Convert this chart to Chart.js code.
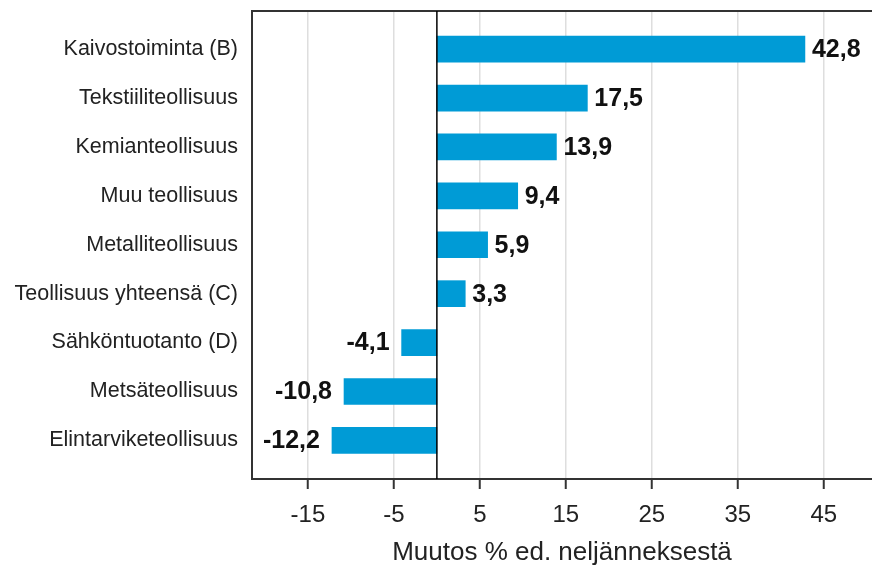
<!DOCTYPE html>
<html>
<head>
<meta charset="utf-8">
<script src="https://cdn.jsdelivr.net/npm/chart.js@4.4.1/dist/chart.umd.min.js"></script>
<style>
    html, body { margin: 0; padding: 0; background: #fff; }
    #wrap { width: 872px; height: 571px; }
</style>
</head>
<body>
<div id="wrap"><canvas id="chart"></canvas></div>
<script>
// Toimialat ja muutos % edellisestä neljänneksestä
const categories = [
    'Kaivostoiminta (B)',
    'Tekstiiliteollisuus',
    'Kemianteollisuus',
    'Muu teollisuus',
    'Metalliteollisuus',
    'Teollisuus yhteensä (C)',
    'Sähköntuotanto (D)',
    'Metsäteollisuus',
    'Elintarviketeollisuus'
];
const changes = [42.8, 17.5, 13.9, 9.4, 5.9, 3.3, -4.1, -10.8, -12.2];
const xTicks = [-15, -5, 5, 15, 25, 35, 45];
const xTitle = 'Muutos % ed. neljänneksestä';

const barColor = '#009bd6';
const fontFamily = '"Liberation Sans", Arial, sans-serif';

function formatValue(v) {
    return v.toFixed(1).replace('.', ',');
}

// arvot palkkien päähän
const valueLabels = {
    id: 'valueLabels',
    afterDatasetsDraw(chart) {
        const ctx = chart.ctx;
        const meta = chart.getDatasetMeta(0);
        ctx.save();
        ctx.font = 'bold 25px ' + fontFamily;
        ctx.fillStyle = '#111';
        ctx.textBaseline = 'middle';
        meta.data.forEach((bar, i) => {
            const v = changes[i];
            if (v >= 0) {
                ctx.textAlign = 'left';
                ctx.fillText(formatValue(v), bar.x + 7, bar.y + 1);
            } else {
                ctx.textAlign = 'right';
                ctx.fillText(formatValue(v), bar.x - 12, bar.y + 1);
            }
        });
        ctx.restore();
    }
};

// yläreuna ja nollaviiva
const frameLines = {
    id: 'frameLines',
    afterDraw(chart) {
        const ctx = chart.ctx;
        const area = chart.chartArea;
        const x0 = chart.scales.x.getPixelForValue(0);
        ctx.save();
        ctx.strokeStyle = '#333';
        ctx.lineWidth = 2;
        ctx.beginPath();
        ctx.moveTo(area.left - 1, area.top);
        ctx.lineTo(area.right, area.top);
        ctx.stroke();
        ctx.strokeStyle = '#000';
        ctx.lineWidth = 1.5;
        ctx.beginPath();
        ctx.moveTo(x0, area.top);
        ctx.lineTo(x0, area.bottom);
        ctx.stroke();
        ctx.restore();
    }
};

new Chart(document.getElementById('chart'), {
    type: 'bar',
    data: {
        datasets: [{
            data: changes.map((v, i) => ({ x: v, y: i })),
            backgroundColor: barColor,
            borderWidth: 0,
            barThickness: 26
        }]
    },
    options: {
        indexAxis: 'y',
        responsive: true,
        maintainAspectRatio: false,
        animation: false,
        layout: { padding: { top: 11, right: 0, bottom: 0, left: 0 } },
        plugins: {
            legend: { display: false },
            tooltip: { enabled: false }
        },
        scales: {
            x: {
                type: 'linear',
                min: -21.5,
                max: 50.6,
                afterBuildTicks: (scale) => {
                    scale.ticks = xTicks.map(v => ({ value: v }));
                },
                afterFit: (scale) => {
                    scale.height = 92;
                    scale.paddingLeft = 0;
                    scale.paddingRight = 0;
                },
                grid: {
                    color: '#dedede',
                    lineWidth: 1.5,
                    tickColor: '#333',
                    tickLength: 10,
                    tickWidth: 2
                },
                border: { display: true, color: '#333', width: 2 },
                ticks: {
                    padding: 12,
                    color: '#222',
                    font: { family: fontFamily, size: 24 },
                    callback: (v) => String(v)
                },
                title: {
                    display: true,
                    text: xTitle,
                    color: '#222',
                    font: { family: fontFamily, size: 26 },
                    padding: { top: 0, bottom: 3 }
                }
            },
            y: {
                type: 'linear',
                reverse: true,
                offset: false,
                min: -0.78,
                max: 8.79,
                afterBuildTicks: (scale) => {
                    scale.ticks = categories.map((c, i) => ({ value: i }));
                },
                afterFit: (scale) => {
                    scale.width = 252;
                    scale.paddingTop = 0;
                    scale.paddingBottom = 0;
                },
                grid: { display: false, drawTicks: false, offset: false },
                border: { display: true, color: '#333', width: 2 },
                ticks: {
                    padding: 14,
                    color: '#222',
                    font: { family: fontFamily, size: 21.5 },
                    callback: (v) => categories[v] || ''
                }
            }
        }
    },
    plugins: [valueLabels, frameLines]
});
</script>
</body>
</html>
